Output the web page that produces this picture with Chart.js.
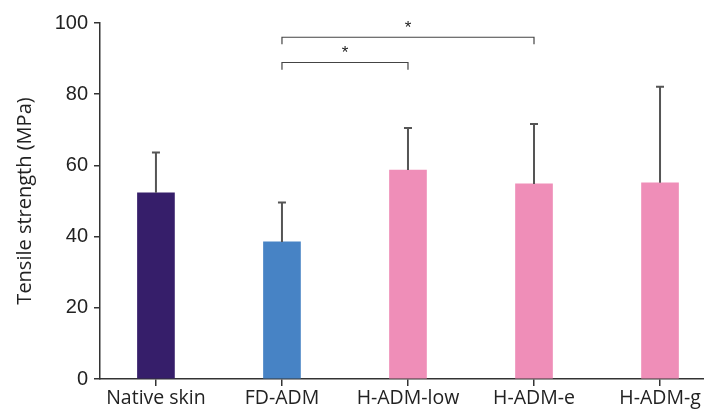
<!DOCTYPE html>
<html>
<head>
<meta charset="utf-8">
<script src="https://cdn.jsdelivr.net/npm/chart.js@4.4.1/dist/chart.umd.min.js"></script>
<style>
  html, body { margin: 0; padding: 0; background: #fff; }
  #wrap { width: 704px; height: 414px; }
</style>
</head>
<body>
<div id="wrap"><canvas id="tensileChart" width="704" height="414"></canvas></div>
<script>
const groups = ['Native skin', 'FD-ADM', 'H-ADM-low', 'H-ADM-e', 'H-ADM-g'];
const meanStrength = [52.3, 38.5, 58.7, 54.8, 55.1];
const sdStrength = [11.3, 11.1, 11.8, 16.8, 27.0];
const barColors = ['#361e6a', '#4783c5', '#ef8eb8', '#ef8eb8', '#ef8eb8'];
const yTicks = [0, 20, 40, 60, 80, 100];

// significance brackets: from group index, to group index, bracket height (MPa)
const brackets = [
  { from: 1, to: 3, level: 96.0, label: '*' },
  { from: 1, to: 2, level: 88.9, label: '*' }
];

const axisColor = '#333';
const numFont = 'Arial, "Liberation Sans", Helvetica, sans-serif';
const textFont = '"Open Sans", "Noto Sans", sans-serif';

// draws the upper error bars and the brackets
const extrasPlugin = {
  id: 'extras',
  afterDatasetsDraw(chart) {
    const { ctx, scales: { x, y } } = chart;
    ctx.save();
    ctx.strokeStyle = '#555';
    ctx.lineWidth = 2;
    meanStrength.forEach((m, i) => {
      const px = x.getPixelForValue(i);
      const top = y.getPixelForValue(m + sdStrength[i]);
      ctx.beginPath();
      ctx.moveTo(px, y.getPixelForValue(m));
      ctx.lineTo(px, top);
      ctx.moveTo(px - 4, top);
      ctx.lineTo(px + 4, top);
      ctx.stroke();
    });

    ctx.strokeStyle = '#444';
    ctx.lineWidth = 1.2;
    ctx.fillStyle = '#222';
    ctx.font = '17px ' + numFont;
    ctx.textAlign = 'center';
    ctx.textBaseline = 'middle';
    brackets.forEach(b => {
      const x1 = x.getPixelForValue(b.from);
      const x2 = x.getPixelForValue(b.to);
      const yl = y.getPixelForValue(b.level);
      const drop = y.getPixelForValue(b.level - 2);
      ctx.beginPath();
      ctx.moveTo(x1, drop);
      ctx.lineTo(x1, yl);
      ctx.lineTo(x2, yl);
      ctx.lineTo(x2, drop);
      ctx.stroke();
      ctx.fillText(b.label, (x1 + x2) / 2, yl - 9);
    });
    ctx.restore();
  }
};

new Chart(document.getElementById('tensileChart'), {
  type: 'bar',
  data: {
    datasets: [{
      data: meanStrength.map((v, i) => ({ x: i, y: v })),
      backgroundColor: barColors,
      barThickness: 37,
      borderWidth: 0
    }]
  },
  options: {
    responsive: false,
    animation: false,
    layout: { padding: { top: 23, left: 0, right: 0, bottom: 0 } },
    plugins: { legend: { display: false }, tooltip: { enabled: false } },
    scales: {
      x: {
        type: 'linear',
        offset: false,
        min: -0.444,
        max: 4.349,
        afterBuildTicks: axis => { axis.ticks = groups.map((_, i) => ({ value: i })); },
        afterFit: axis => { axis.height = 35; },
        border: { display: true, color: axisColor, width: 1.5 },
        grid: { offset: false, drawOnChartArea: false, drawTicks: true, tickLength: 7, color: axisColor, lineWidth: 1.5 },
        ticks: {
          autoSkip: false,
          maxRotation: 0,
          padding: 1,
          color: '#222',
          font: { family: textFont, size: 19.5 },
          callback: v => groups[v] || ''
        }
      },
      y: {
        min: 0,
        max: 100,
        afterBuildTicks: axis => { axis.ticks = yTicks.map(v => ({ value: v })); },
        afterFit: axis => { axis.width = 100; },
        border: { display: true, color: axisColor, width: 1.5 },
        grid: { drawOnChartArea: false, drawTicks: true, tickLength: 6, color: axisColor, lineWidth: 1.5 },
        ticks: {
          padding: 6,
          color: '#222',
          font: { family: numFont, size: 20 }
        },
        title: {
          display: true,
          text: 'Tensile strength (MPa)',
          color: '#222',
          font: { family: textFont, size: 20 },
          padding: { top: 13, bottom: 4 }
        }
      }
    }
  },
  plugins: [extrasPlugin]
});
</script>
</body>
</html>
